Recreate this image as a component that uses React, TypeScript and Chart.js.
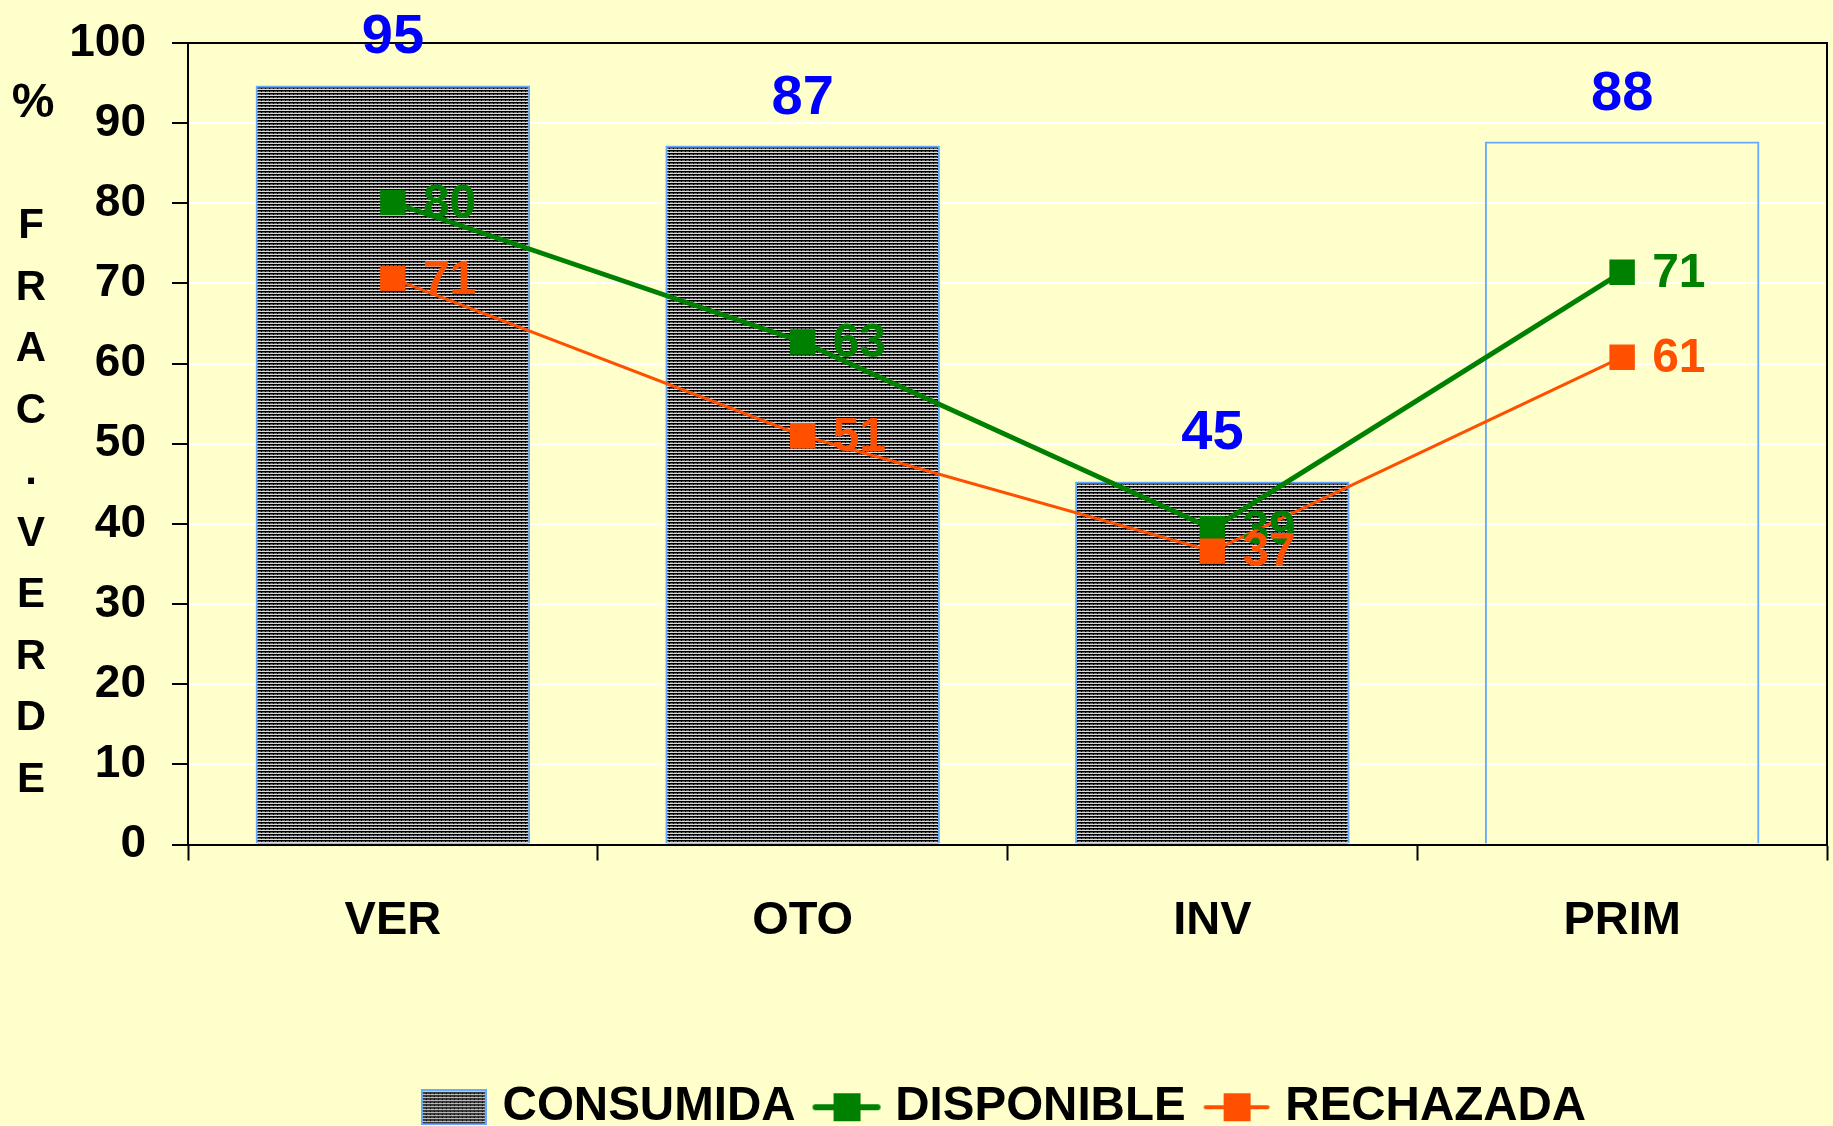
import React, { useEffect, useRef } from 'react';
import { Chart, registerables } from 'chart.js';

Chart.register(...registerables);

// ---- data ----
const categories = ['VER', 'OTO', 'INV', 'PRIM'];
const consumida = [94.7, 87.2, 45.3, 87.7];
const disponible = [80.1, 62.7, 39.4, 71.4];
const rechazada = [70.6, 51.0, 36.6, 60.8];
const seriesNames = ['CONSUMIDA', 'DISPONIBLE', 'RECHAZADA'];
const yTitleLines = ['%', '', 'F', 'R', 'A', 'C', '.', 'V', 'E', 'R', 'D', 'E'];

// ---- styles ----
const W = 1833;
const H = 1126;
const BG = '#FFFFCC';
const GREEN = '#008000';
const ORANGE = '#FF5000';
const BLUE_LABEL = '#0000FF';
const BAR_BORDER = '#66AAFF';
const FONT = "'Liberation Sans', Arial, Helvetica, sans-serif";

function makePatternCanvas(): HTMLCanvasElement {
  const c = document.createElement('canvas');
  c.width = 8;
  c.height = 3;
  const g = c.getContext('2d')!;
  g.fillStyle = '#000000';
  g.fillRect(0, 0, 8, 1);
  g.fillStyle = '#606060';
  g.fillRect(0, 1, 8, 1);
  g.fillStyle = '#000000';
  g.fillRect(1, 1, 1, 1);
  g.fillRect(5, 1, 1, 1);
  g.fillStyle = '#dcdcdc';
  g.fillRect(0, 2, 8, 1);
  return c;
}

function makeBarIcon(pat: CanvasPattern | string): HTMLCanvasElement {
  const c = document.createElement('canvas');
  c.width = 66;
  c.height = 36;
  const g = c.getContext('2d')!;
  g.fillStyle = pat as any;
  g.fillRect(2, 2, 62, 32);
  g.strokeStyle = BAR_BORDER;
  g.lineWidth = 2;
  g.strokeRect(1, 1, 64, 34);
  return c;
}

function makeLineIcon(color: string, lw: number): HTMLCanvasElement {
  const c = document.createElement('canvas');
  c.width = 70;
  c.height = 30;
  const g = c.getContext('2d')!;
  g.strokeStyle = color;
  g.lineWidth = lw;
  g.lineCap = 'round';
  g.beginPath();
  g.moveTo(4, 15);
  g.lineTo(66, 15);
  g.stroke();
  g.fillStyle = color;
  g.fillRect(22, 1, 27, 28);
  return c;
}

function zeroPadding(s: any) {
  s.paddingLeft = 0;
  s.paddingRight = 0;
  s.paddingTop = 0;
  s.paddingBottom = 0;
}

export default function App() {
  const ref = useRef<HTMLCanvasElement | null>(null);

  useEffect(() => {
    document.body.style.margin = '0';
    document.body.style.background = BG;
    const canvas = ref.current!;
    const ctx = canvas.getContext('2d')!;
    const patCanvas = makePatternCanvas();
    const pat = ctx.createPattern(patCanvas, 'repeat')!;
    const icons = [makeBarIcon(pat), makeLineIcon(GREEN, 6), makeLineIcon(ORANGE, 4)];

    const bgPlugin = {
      id: 'bgFill',
      beforeDraw(chart: any) {
        const c = chart.ctx;
        c.save();
        c.fillStyle = BG;
        c.fillRect(0, 0, chart.width, chart.height);
        c.restore();
      },
    };

    const framePlugin = {
      id: 'frame',
      beforeDatasetsDraw(chart: any) {
        const { ctx: c, chartArea: a } = chart;
        c.save();
        c.strokeStyle = '#000';
        c.lineWidth = 2;
        c.beginPath();
        c.moveTo(a.left, a.top);
        c.lineTo(a.right, a.top);
        c.lineTo(a.right, a.bottom);
        c.stroke();
        c.restore();
      },
    };

    const labelsPlugin = {
      id: 'valueLabels',
      afterDatasetsDraw(chart: any) {
        const c = chart.ctx;
        c.save();
        const barMeta = chart.getDatasetMeta(0);
        c.font = `bold 56px ${FONT}`;
        c.fillStyle = BLUE_LABEL;
        c.textAlign = 'center';
        c.textBaseline = 'alphabetic';
        barMeta.data.forEach((el: any, i: number) => {
          c.fillText(String(Math.round(consumida[i])), el.x, el.y - 32);
        });
        const lineSets = [
          { idx: 1, data: disponible, color: GREEN },
          { idx: 2, data: rechazada, color: ORANGE },
        ];
        c.font = `bold 48px ${FONT}`;
        c.textAlign = 'left';
        c.textBaseline = 'middle';
        lineSets.forEach((s) => {
          const meta = chart.getDatasetMeta(s.idx);
          c.fillStyle = s.color;
          meta.data.forEach((el: any, i: number) => {
            c.fillText(String(Math.round(s.data[i])), el.x + 30, el.y + 2);
          });
        });
        c.restore();
      },
    };

    const yTitlePlugin = {
      id: 'yTitle',
      afterDraw(chart: any) {
        const { ctx: c, chartArea: a } = chart;
        c.save();
        c.fillStyle = '#000';
        c.textAlign = 'center';
        c.textBaseline = 'middle';
        const cy = (a.top + a.bottom) / 2 - 2;
        const lh = 61.5;
        const n = yTitleLines.length;
        yTitleLines.forEach((t, i) => {
          c.font = t === '%' ? `bold 48px ${FONT}` : `bold 42px ${FONT}`;
          c.fillText(t, t === '%' ? 33 : 31, cy + (i - (n - 1) / 2) * lh);
        });
        c.restore();
      },
    };

    const chart = new Chart(canvas, {
      type: 'bar',
      data: {
        labels: categories,
        datasets: [
          {
            type: 'bar',
            label: seriesNames[0],
            data: consumida,
            backgroundColor: [pat, pat, pat, 'rgba(0,0,0,0)'] as any,
            borderColor: BAR_BORDER,
            borderWidth: 2,
            barPercentage: 0.67,
            categoryPercentage: 1,
            order: 3,
          },
          {
            type: 'line',
            label: seriesNames[1],
            data: disponible,
            borderColor: GREEN,
            backgroundColor: GREEN,
            borderWidth: 5,
            pointStyle: 'rect',
            pointRadius: 18,
            pointBorderWidth: 0,
            pointBackgroundColor: GREEN,
            pointBorderColor: GREEN,
            tension: 0,
            order: 2,
          },
          {
            type: 'line',
            label: seriesNames[2],
            data: rechazada,
            borderColor: ORANGE,
            backgroundColor: ORANGE,
            borderWidth: 3,
            pointStyle: 'rect',
            pointRadius: 18,
            pointBorderWidth: 0,
            pointBackgroundColor: ORANGE,
            pointBorderColor: ORANGE,
            tension: 0,
            order: 1,
          },
        ] as any,
      },
      options: {
        responsive: false,
        animation: false,
        layout: { autoPadding: false, padding: { top: 43, right: 6, bottom: -15, left: 0 } },
        plugins: {
          legend: {
            position: 'bottom',
            fullSize: false,
            labels: {
              usePointStyle: true,
              pointStyleWidth: 50,
              padding: 26,
              color: '#000',
              font: { size: 47.5, weight: 'bold', family: FONT },
              generateLabels: () =>
                seriesNames.map((name, i) => ({
                  text: name,
                  fillStyle: i === 0 ? '#666' : i === 1 ? GREEN : ORANGE,
                  strokeStyle: 'rgba(0,0,0,0)',
                  lineWidth: 0,
                  pointStyle: icons[i] as any,
                  hidden: false,
                  datasetIndex: i,
                  fontColor: '#000',
                })),
            },
          },
          title: { display: false },
          tooltip: { enabled: false },
        },
        scales: {
          x: {
            grid: {
              offset: true,
              drawOnChartArea: false,
              tickLength: 16,
              tickColor: '#000',
              tickWidth: 2,
            },
            border: { color: '#000', width: 2 },
            ticks: {
              color: '#000',
              font: { size: 47, weight: 'bold', family: FONT },
              padding: 32,
              maxRotation: 0,
            },
            afterFit: (s: any) => {
              s.height = 213;
              zeroPadding(s);
            },
          },
          y: {
            min: 0,
            max: 100,
            ticks: {
              stepSize: 10,
              color: '#000',
              font: { size: 46, weight: 'bold', family: FONT },
              padding: 26,
            },
            grid: {
              color: '#FFFFFF',
              lineWidth: 2,
              tickLength: 16,
              tickColor: '#000',
              tickWidth: 2,
            },
            border: { color: '#000', width: 2 },
            afterFit: (s: any) => {
              s.width = 188;
              zeroPadding(s);
            },
          },
        },
      } as any,
      plugins: [bgPlugin, framePlugin, labelsPlugin, yTitlePlugin],
    });

    return () => {
      chart.destroy();
    };
  }, []);

  return (
    <div style={{ width: W, height: H, background: BG }}>
      <canvas ref={ref} width={W} height={H} style={{ display: 'block', width: W, height: H }} />
    </div>
  );
}
